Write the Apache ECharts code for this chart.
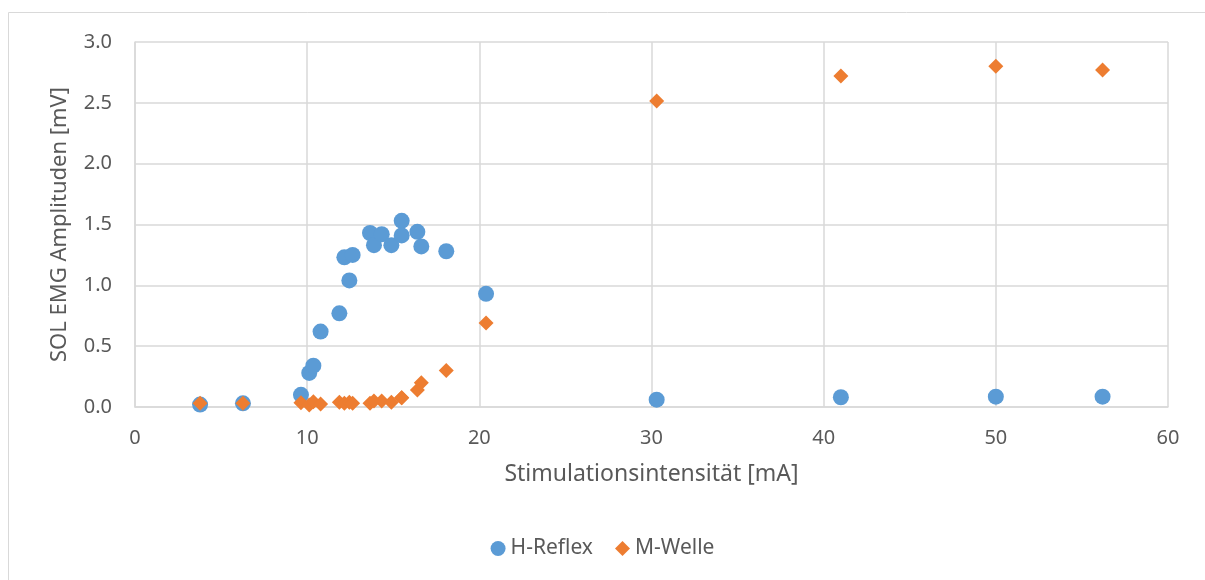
<!DOCTYPE html>
<html>
<head>
<meta charset="utf-8">
<script src="https://cdn.jsdelivr.net/npm/echarts@6/dist/echarts.min.js"></script>
<style>
    html, body { margin: 0; padding: 0; background: #fff; overflow: hidden; }
    #chart { width: 1205px; height: 580px; }
</style>
</head>
<body>
<div id="chart"></div>
<script>
// Stimulationsintensität [mA] (gemeinsam für beide Reihen)
var intensity = [3.78, 6.27, 9.64, 10.12, 10.36, 10.78, 11.87, 12.16, 12.45, 12.64,
    13.65, 13.88, 14.33, 14.89, 15.49, 15.49, 16.40, 16.63, 18.08, 20.39,
    30.30, 41.00, 50.00, 56.20];
// H-Reflex Amplitude [mV]
var hReflex = [0.02, 0.03, 0.10, 0.28, 0.34, 0.62, 0.77, 1.23, 1.04, 1.25,
    1.43, 1.33, 1.42, 1.33, 1.53, 1.41, 1.44, 1.32, 1.28, 0.93,
    0.06, 0.08, 0.085, 0.085];
// M-Welle Amplitude [mV]
var mWelle = [0.03, 0.03, 0.035, 0.016, 0.044, 0.025, 0.04, 0.03, 0.04, 0.03,
    0.03, 0.05, 0.05, 0.04, 0.077, 0.077, 0.14, 0.20, 0.30, 0.69,
    2.515, 2.72, 2.80, 2.77];

function pairs(xs, ys) {
    var out = [];
    for (var i = 0; i < xs.length; i++) {
        out.push([xs[i], ys[i]]);
    }
    return out;
}

var font = '"Noto Sans", "Open Sans", sans-serif';
var textColor = '#595959';
var gridColor = '#d9d9d9';

var chart = echarts.init(document.getElementById('chart'));

var option = {
    animation: false,
    textStyle: { fontFamily: font },
    graphic: [{
        type: 'rect',
        shape: { x: 8.5, y: 12.5, width: 1400, height: 800 },
        style: { fill: 'none', stroke: gridColor, lineWidth: 1 },
        silent: true
    }],
    grid: {
        left: 135,
        right: 37,
        top: 42,
        bottom: 173
    },
    legend: {
        bottom: 16,
        left: 'center',
        itemWidth: 15,
        itemHeight: 15,
        itemGap: 22,
        textStyle: { color: textColor, fontSize: 21, fontFamily: font },
        data: [
            { name: 'H-Reflex', icon: 'circle' },
            { name: 'M-Welle', icon: 'diamond' }
        ]
    },
    xAxis: {
        type: 'value',
        min: 0,
        max: 60,
        interval: 10,
        name: 'Stimulationsintensität [mA]',
        nameLocation: 'middle',
        nameGap: 56,
        nameTextStyle: { color: textColor, fontSize: 23, fontFamily: font },
        axisLine: { show: true, lineStyle: { color: gridColor, width: 1.5 } },
        axisTick: { show: false },
        axisLabel: { color: textColor, fontSize: 20, margin: 21 },
        splitLine: { show: true, lineStyle: { color: gridColor, width: 1.5 } }
    },
    yAxis: {
        type: 'value',
        min: 0,
        max: 3,
        interval: 0.5,
        name: 'SOL EMG Amplituden [mV]',
        nameLocation: 'middle',
        nameGap: 64,
        nameTextStyle: { color: textColor, fontSize: 22, fontFamily: font },
        axisLine: { show: true, lineStyle: { color: gridColor, width: 1.5 } },
        axisTick: { show: false },
        axisLabel: {
            color: textColor,
            fontSize: 20,
            margin: 23,
            formatter: function (v) { return v.toFixed(1); }
        },
        splitLine: { show: true, lineStyle: { color: gridColor, width: 1.5 } }
    },
    series: [
        {
            name: 'H-Reflex',
            type: 'scatter',
            symbol: 'circle',
            symbolSize: 16,
            itemStyle: { color: '#5b9bd5', opacity: 1 },
            data: pairs(intensity, hReflex)
        },
        {
            name: 'M-Welle',
            type: 'scatter',
            symbol: 'diamond',
            symbolSize: 15,
            itemStyle: { color: '#ed7d31', opacity: 1 },
            data: pairs(intensity, mWelle)
        }
    ]
};

chart.setOption(option);
</script>
</body>
</html>
